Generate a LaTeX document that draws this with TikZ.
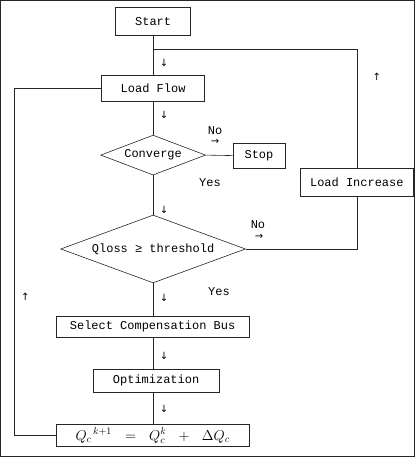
\documentclass[tikz,border=0pt]{standalone}
\usepackage{fontspec}
\setmonofont{Liberation Mono}
\newfontfamily\symfont{DejaVu Sans}
\usetikzlibrary{shapes.geometric}
\begin{document}
\begin{tikzpicture}[x=1pt,y=-1pt,
  every path/.style={line width=0.6pt, draw=black!85},
  box/.style={draw, rectangle, inner sep=0pt, font=\ttfamily\fontsize{12}{12}\selectfont},
  dec/.style={draw, diamond, inner sep=0pt, aspect=2.6, font=\ttfamily\fontsize{12}{12}\selectfont},
  lbl/.style={inner sep=0pt, font=\ttfamily\fontsize{12}{12}\selectfont},
  arrmark/.style={inner sep=0pt, font=\symfont\fontsize{10}{10}\selectfont}
]
\useasboundingbox (0,0) rectangle (415,457);
% nodes
\node[box, minimum width=75pt, minimum height=28pt] (start) at (153,21) {Start};
\node[box, minimum width=103pt, minimum height=26pt] (lf) at (153,88) {Load Flow};
\node[dec, minimum width=105pt, minimum height=40pt] (conv) at (153,155) {Converge};
\node[box, minimum width=52pt, minimum height=25pt] (stop) at (259,155.5) {Stop};
\node[box, minimum width=113pt, minimum height=28pt] (li) at (357,182) {Load Increase};
\node[dec, minimum width=185pt, minimum height=68pt] (ql) at (153,249) {Qloss ≥ threshold};
\node[box, minimum width=193pt, minimum height=21pt] (sel) at (152.5,327) {Select Compensation Bus};
\node[box, minimum width=126pt, minimum height=24pt] (opt) at (156,381) {Optimization};
\node[box, minimum width=193pt, minimum height=22pt, font=\fontsize{14}{14}\selectfont] (qb) at (152.5,436)
  {$Q_c{}^{\,k+1}\ \ =\ \ Q_c^{k}\ \ +\ \ \Delta Q_c$};
% coordinates
\coordinate (j1) at (153,49);
\coordinate (l1) at (14,436);
\coordinate (l2) at (14,88);
% connectors
\draw (start) -- (lf);
\draw (li.north) |- (j1);
\draw (lf) -- (conv);
\draw (conv.east) -- (stop.west);
\draw (conv.south) -- (ql.north);
\draw (ql.east) -| (li.south);
\draw (ql.south) -- (ql.south |- sel.north);
\draw (ql.south |- sel.south) -- (ql.south |- opt.north);
\draw (ql.south |- opt.south) -- (ql.south |- qb.north);
\draw (qb.west) -- (l1) -- (l2) -- (lf.west);
% labels
\node[arrmark] (a1) at (164,63) {↓};
\node[arrmark] (a2) at (164,115) {↓};
\node[arrmark] (a3) at (164,210) {↓};
\node[arrmark] (a4) at (164,298) {↓};
\node[arrmark] (a5) at (164,356) {↓};
\node[arrmark] (a6) at (164,409) {↓};
\node[arrmark] (a7) at (377,77) {↑};
\node[arrmark] (a8) at (25,297) {↑};
\node[lbl] (no1) at (215,130) {No};
\node[arrmark] (r1) at (215,142) {→};
\node[lbl] (yes1) at (210,183) {Yes};
\node[lbl] (no2) at (258,225) {No};
\node[arrmark] (r2) at (259,237) {→};
\node[lbl] (yes2) at (219,292) {Yes};
\end{tikzpicture}
\end{document}
